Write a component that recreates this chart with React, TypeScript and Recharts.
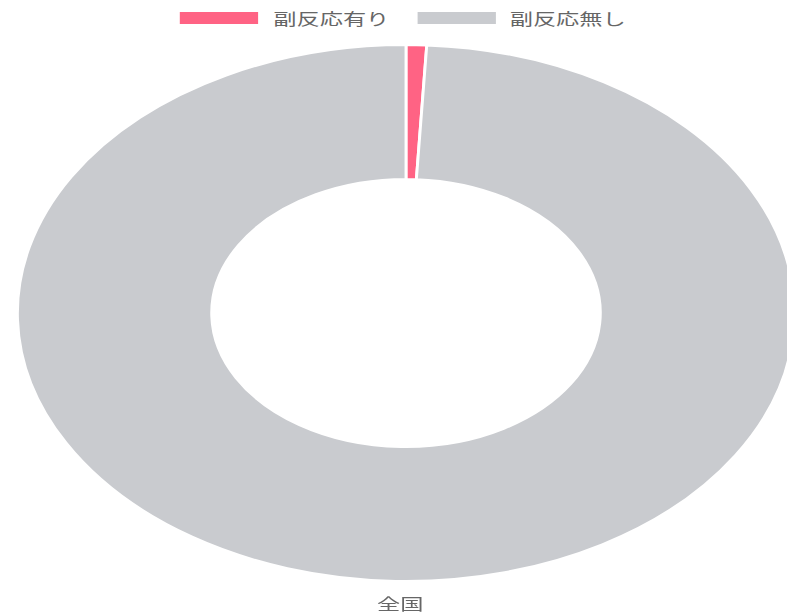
import React from 'react';
import { PieChart, Pie, Cell, Legend } from 'recharts';

const categories = ['副反応有り', '副反応無し'];
const values = [0.85, 99.15];
const colors = ['#FF6384', '#C9CBCF'];
const chartTitle = '全国';

const data = categories.map((name, i) => ({ name, value: values[i] }));

const FONT = '"Noto Sans CJK JP", "Noto Sans", sans-serif';

const renderLegend = () => (
  <div
    style={{
      display: 'flex',
      justifyContent: 'center',
      alignItems: 'center',
      paddingLeft: 13,
      fontFamily: FONT,
      fontSize: 16,
      color: '#666',
      lineHeight: '16px',
    }}
  >
    {categories.map((c, i) => (
      <div key={c} style={{ display: 'flex', alignItems: 'center', marginRight: i === 0 ? 19 : 0 }}>
        <div style={{ width: 54, height: 12, background: colors[i], marginRight: 10 }} />
        <span>{c}</span>
      </div>
    ))}
  </div>
);

export default function App() {
  return (
    <div
      style={{
        position: 'absolute',
        left: 0,
        top: 0,
        width: 543,
        height: 614,
        transform: 'scaleX(1.45)',
        transformOrigin: '0 0',
        background: '#fff',
      }}
    >
      <PieChart width={543} height={614}>
        <Legend
          verticalAlign="top"
          content={renderLegend}
          wrapperStyle={{ top: 10, left: 0, width: 543, height: 16 }}
        />
        <Pie
          data={data}
          dataKey="value"
          nameKey="name"
          cx={275}
          cy={292}
          innerRadius={134}
          outerRadius={268}
          startAngle={90}
          endAngle={-270}
          stroke="#fff"
          strokeWidth={2}
          isAnimationActive={false}
        >
          {data.map((d, i) => (
            <Cell key={d.name} fill={colors[i]} />
          ))}
        </Pie>
      </PieChart>
      <div
        style={{
          position: 'absolute',
          left: 0,
          top: 594,
          width: 552,
          textAlign: 'center',
          fontFamily: FONT,
          fontSize: 16,
          color: '#666',
          lineHeight: '18px',
        }}
      >
        {chartTitle}
      </div>
    </div>
  );
}
